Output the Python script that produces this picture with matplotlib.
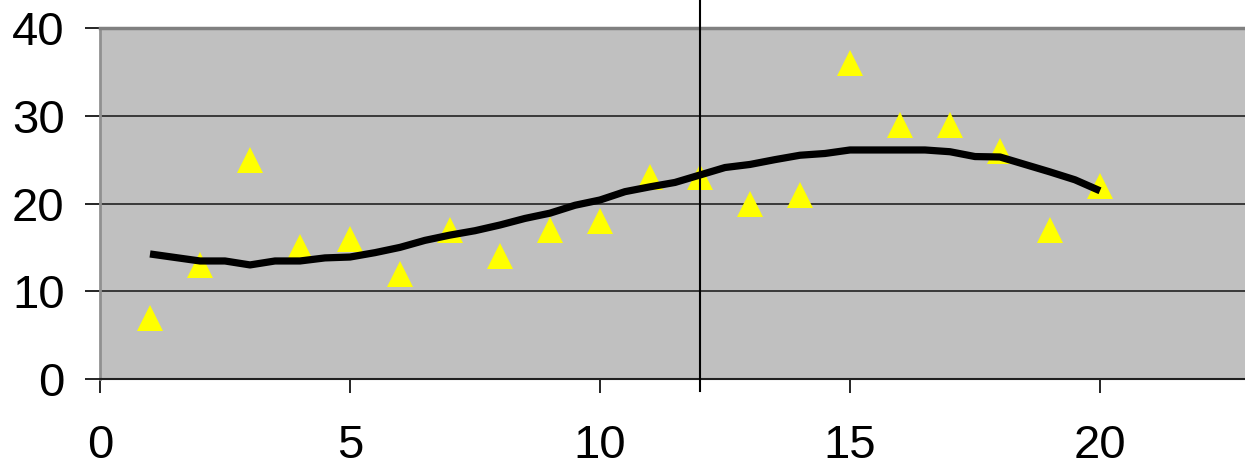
import matplotlib.pyplot as plt

plt.rcParams['font.family'] = ['Liberation Sans', 'DejaVu Sans']

# observed points
obs_x = list(range(1, 21))
obs_y = [7, 13, 25, 15, 16, 12, 17, 14, 17, 18,
         23, 23, 20, 21, 36, 29, 29, 26, 17, 22]

fit_x = [1, 1.5, 2, 2.5, 3, 3.5, 4, 4.5, 5, 5.5, 6, 6.5, 7, 7.5, 8, 8.5,
         9, 9.5, 10, 10.5, 11, 11.5, 12, 12.5, 13, 13.5, 14, 14.5, 15,
         15.5, 16, 16.5, 17, 17.5, 18, 18.5, 19, 19.5, 20]
fit_y = [14.25, 13.85, 13.45, 13.45, 13.0, 13.45, 13.45, 13.8, 13.9, 14.4,
         15.0, 15.8, 16.4, 16.9, 17.55, 18.3, 18.9, 19.8, 20.4, 21.35,
         21.9, 22.4, 23.25, 24.1, 24.45, 25.0, 25.5, 25.7, 26.1,
         26.1, 26.1, 26.1, 25.9, 25.35, 25.3, 24.45, 23.6, 22.7, 21.45]

marker_line = 12

fig = plt.figure(figsize=(12.45, 4.69), dpi=100)
ax = fig.add_axes([100 / 1245, 1 - 379 / 469, 1 - 100 / 1245, 351 / 469])
ax.set_facecolor('#c0c0c0')

ax.plot(obs_x, obs_y, linestyle='none', marker='^', markersize=19,
        color='#ffff00', markeredgewidth=0, zorder=3)
ax.plot(fit_x, fit_y, color='black', linewidth=5.2, solid_capstyle='butt',
        zorder=4)

ax.axvline(marker_line, ymin=-0.035, ymax=1.08, color='black', linewidth=1.5,
           clip_on=False, zorder=5)

ax.set_xlim(0, 22.9)
ax.set_ylim(0, 40)
ax.set_xticks([0, 5, 10, 15, 20])
ax.set_yticks([0, 10, 20, 30, 40])
ax.yaxis.grid(True, color='#222222', linewidth=1.2)
ax.set_axisbelow(True)

ax.spines['top'].set_color('#808080')
ax.spines['top'].set_linewidth(2.5)
ax.spines['left'].set_color('#909090')
ax.spines['left'].set_linewidth(2)
ax.spines['bottom'].set_color('#202020')
ax.spines['bottom'].set_linewidth(1.5)
ax.spines['right'].set_visible(False)

ax.tick_params(axis='y', length=11, width=1.2, pad=14.5, labelsize=34,
               color='black')
ax.tick_params(axis='x', length=10, width=1.2, pad=22.5, labelsize=34,
               color='black')

fig.savefig('out.png', dpi=100)
